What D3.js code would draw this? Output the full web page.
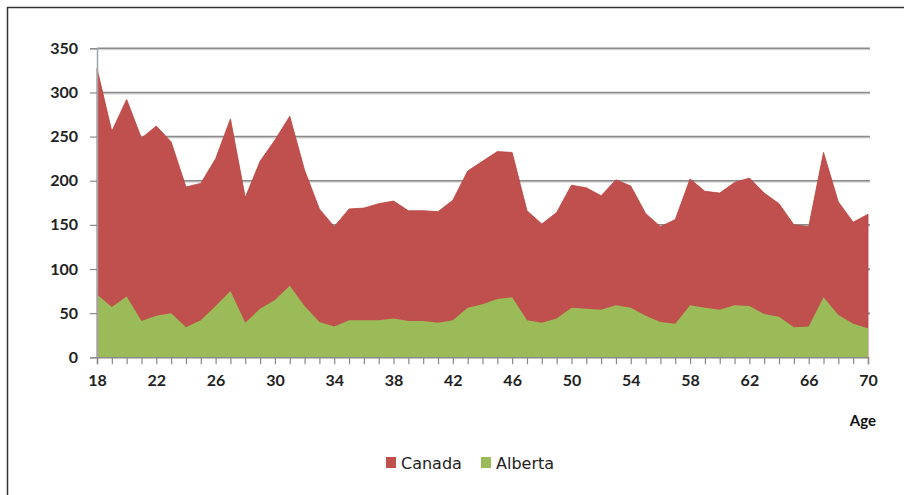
<!DOCTYPE html>
<html>
<head>
<meta charset="utf-8">
<script src="https://cdn.jsdelivr.net/npm/d3@7/dist/d3.min.js"></script>
<style>
  html, body { margin: 0; padding: 0; background: #fff; }
  svg { display: block; }
</style>
</head>
<body>
<svg id="chart" width="904" height="495"></svg>
<script>
const ages = [18,19,20,21,22,23,24,25,26,27,28,29,30,31,32,33,34,35,36,37,38,39,40,41,42,43,44,45,46,47,48,49,50,51,52,53,54,55,56,57,58,59,60,61,62,63,64,65,66,67,68,69,70];
const canada = [327,256,292,248,262,244,193,197,225,270,181,222,246,273,212,168,148,168,
                169,174,177,166,166,165,178,211,222,233,232,166,151,164,195,192,183,201,
                194,163,148,156,202,188,186,198,203,186,174,150,148,232,176,153,162];
const alberta = [71,57,69,41,47,50,34,42,58,75,39,55,65,81,58,40,35,42,
                 42,42,44,41,41,39,42,56,60,66,68,42,39,44,56,55,54,59,
                 56,47,40,38,59,56,54,59,58,49,46,34,35,68,48,38,33];
const yTicks = [0,50,100,150,200,250,300,350];
const xTickLabels = [18,22,26,30,34,38,42,46,50,54,58,62,66,70];
const seriesNames = ["Canada","Alberta"];
const seriesColors = ["#C0504D","#9BBB59"];

(function draw() {
const svg = d3.select("#chart");
const pL = 97, pR = 868, pT = 48.3, pB = 357.3;
const font = "Lato, 'Open Sans', sans-serif";

const x = d3.scaleLinear().domain([ages[0], ages[ages.length-1]]).range([pL, pR]);
const y = d3.scaleLinear().domain([0, 350]).range([pB, pT]);

// frame (top & left edges only visible)
svg.append("line").attr("x1",7).attr("x2",904).attr("y1",7.5).attr("y2",7.5)
  .attr("stroke","#333").attr("stroke-width",1.5);
svg.append("line").attr("x1",7.5).attr("x2",7.5).attr("y1",7).attr("y2",495)
  .attr("stroke","#333").attr("stroke-width",1.5);

// gridlines
const grid = svg.append("g");
yTicks.filter(d => d > 0).forEach(v => {
  grid.append("line").attr("x1",pL).attr("x2",pR+2).attr("y1",y(v)+1.2).attr("y2",y(v)+1.2)
    .attr("stroke","#d4d4d4").attr("stroke-width",1.5);
  grid.append("line").attr("x1",pL).attr("x2",pR+2).attr("y1",y(v)).attr("y2",y(v))
    .attr("stroke","#8a8a8a").attr("stroke-width",1.5);
});

// areas
const areaC = d3.area().x((d,i) => x(ages[i])).y0(y(0)).y1(d => y(d));
svg.append("path").datum(canada).attr("d", areaC)
  .attr("fill", seriesColors[0]).attr("stroke","#b8423f").attr("stroke-width",0.8);
svg.append("path").datum(alberta).attr("d", areaC)
  .attr("fill", seriesColors[1]);

// y axis
const yAxis = d3.axisLeft(y).tickValues(yTicks).tickSize(7).tickPadding(12);
const gy = svg.append("g").attr("transform",`translate(${pL},0)`).call(yAxis);
gy.select(".domain").attr("stroke","#9aa6ad").attr("stroke-width",1.5);
gy.selectAll(".tick line").attr("stroke","#8a8a8a").attr("stroke-width",1.2);
gy.selectAll(".tick text").attr("font-family",font).attr("font-weight","bold")
  .attr("font-size","16px").attr("fill","#222");

// x axis
const xAxis = d3.axisBottom(x).tickValues(ages).tickSize(7).tickPadding(10)
  .tickFormat(d => xTickLabels.includes(d) ? d : "");
const gx = svg.append("g").attr("transform",`translate(0,${pB})`).call(xAxis);
gx.select(".domain").attr("stroke","#8a8a8a").attr("stroke-width",1.5);
gx.selectAll(".tick line").attr("stroke","#8a8a8a").attr("stroke-width",1.2);
gx.selectAll(".tick text").attr("font-family",font).attr("font-weight","bold")
  .attr("font-size","16px").attr("fill","#222");

// axis title
svg.append("text").attr("x",876).attr("y",426).attr("text-anchor","end")
  .attr("font-family",font).attr("font-weight","bold").attr("font-size","15px")
  .attr("fill","#111").text("Age");

// legend
const legend = svg.append("g");
const legX = [386, 481];
seriesNames.forEach((n,i) => {
  legend.append("rect").attr("x",legX[i]).attr("y",457).attr("width",10).attr("height",11)
    .attr("fill",seriesColors[i]);
  legend.append("text").attr("x",legX[i]+15).attr("y",469)
    .attr("font-family","'DejaVu Sans', sans-serif").attr("font-size","16px")
    .attr("fill","#222").text(n);
});
})();
</script>
</body>
</html>
